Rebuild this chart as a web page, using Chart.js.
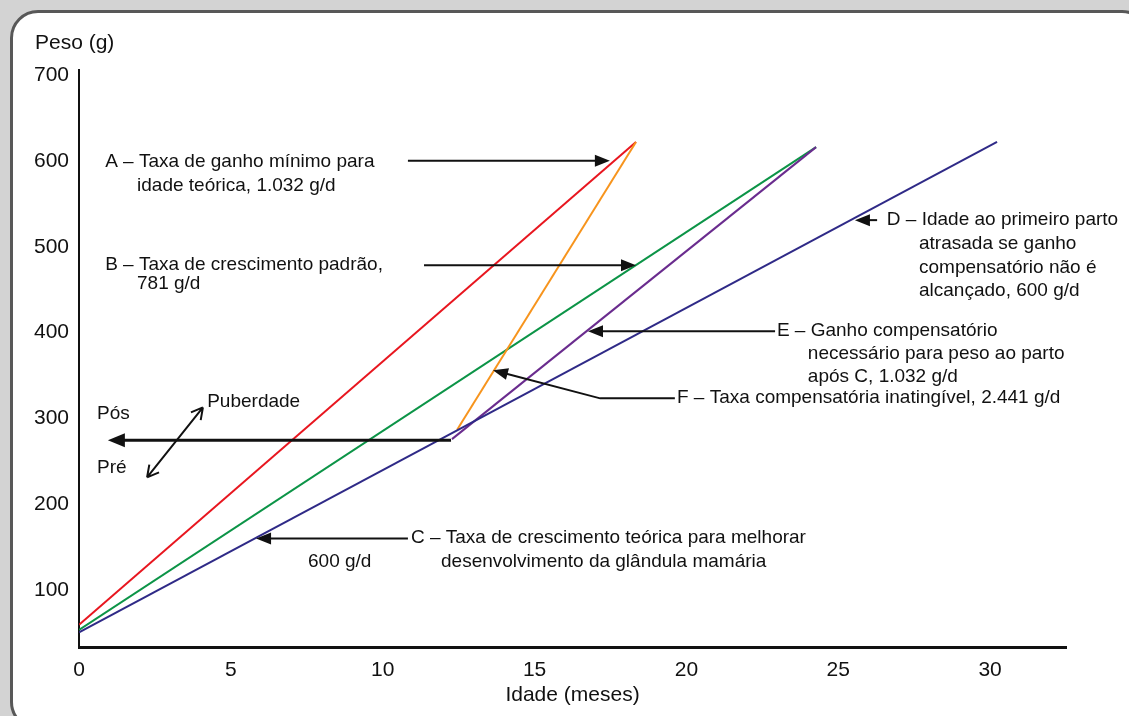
<!DOCTYPE html>
<html>
<head>
<meta charset="utf-8">
<script src="https://cdn.jsdelivr.net/npm/chart.js@4"></script>
<style>
  html, body { margin: 0; padding: 0; }
  body { width: 1129px; height: 716px; background: #d3d3d3; position: relative; overflow: hidden; }
  #box { position: absolute; left: 10px; top: 10px; width: 1140px; height: 720px;
         box-sizing: border-box; border: 3px solid #585858; border-radius: 28px; background: #fff; }
  #wrap { position: absolute; left: 0; top: 0; width: 1129px; height: 716px; }
</style>
</head>
<body>
<div id="box"></div>
<div id="wrap"><canvas id="grafico"></canvas></div>
<script>
// eixos
var xTicks = [0, 5, 10, 15, 20, 25, 30];
var yTicks = [100, 200, 300, 400, 500, 600, 700];

// linhas (idade em meses, peso em g)
var idadeA = [0, 18.34];   var pesoA = [60, 622];    // ganho minimo
var idadeB = [0, 24.27];   var pesoB = [54, 616];    // padrao
var idadeCD = [0, 30.23];  var pesoCD = [51, 622];   // 600 g/d
var idadeE = [12.28, 24.27]; var pesoE = [276, 616]; // compensatorio
var idadeF = [12.45, 18.34]; var pesoF = [287, 622]; // inatingivel

function pts(xs, ys) {
  return xs.map(function (v, i) { return { x: v, y: ys[i] }; });
}

// textos das anotacoes, ancorados em coordenadas dos eixos
var textos = [
  ["A – Taxa de ganho mínimo para", 0.86, 599],
  ["idade teórica, 1.032 g/d", 1.91, 571],
  ["B – Taxa de crescimento padrão,", 0.86, 478.5],
  ["781 g/d", 1.91, 456.5],
  ["Pós", 0.59, 306],
  ["Pré", 0.59, 243],
  ["Puberdade", 4.22, 320],
  ["C – Taxa de crescimento teórica para melhorar", 10.93, 161.5],
  ["desenvolvimento da glândula mamária", 11.92, 133.5],
  ["600 g/d", 7.54, 133.5],
  ["D – Idade ao primeiro parto", 26.6, 531],
  ["atrasada se ganho", 27.66, 503],
  ["compensatório não é", 27.66, 475],
  ["alcançado, 600 g/d", 27.66, 448.5],
  ["E – Ganho compensatório", 22.98, 402.5],
  ["necessário para peso ao parto", 24.0, 375.5],
  ["após C, 1.032 g/d", 24.0, 348.5],
  ["F – Taxa compensatória inatingível, 2.441 g/d", 19.69, 324.5]
];

// setas: pontos do caminho, a ponta no ultimo
var setas = [
  { p: [[10.83, 600], [17.48, 600]] },
  { p: [[11.36, 478.6], [18.34, 478.6]] },
  { p: [[12.25, 274.6], [0.95, 274.6]], w: 3 },
  { p: [[10.83, 160.4], [5.83, 160.4]] },
  { p: [[26.28, 531], [25.55, 531]] },
  { p: [[22.92, 401.6], [16.76, 401.6]] },
  { p: [[19.62, 323.5], [17.16, 323.5], [13.63, 356.2]] }
];
var setaDupla = [[2.24, 231.5], [4.08, 313]];

var fonte = '"Liberation Sans", Arial, sans-serif';

var anotacoes = {
  id: 'anotacoes',
  afterDatasetsDraw: function (chart) {
    var c = chart.ctx, sx = chart.scales.x, sy = chart.scales.y;
    function px(p) { return [sx.getPixelForValue(p[0]), sy.getPixelForValue(p[1])]; }
    c.save();
    c.fillStyle = '#111';
    c.strokeStyle = '#111';
    c.font = '19px ' + fonte;
    c.textBaseline = 'middle';
    c.textAlign = 'left';
    textos.forEach(function (t) {
      var q = px([t[1], t[2]]);
      c.fillText(t[0], q[0], q[1]);
    });

    setas.forEach(function (s) {
      var w = s.w || 2;
      var q = s.p.map(px);
      var n = q.length;
      var a = Math.atan2(q[n - 1][1] - q[n - 2][1], q[n - 1][0] - q[n - 2][0]);
      var L = w > 2 ? 17 : 15, H = w > 2 ? 7 : 6;
      c.lineWidth = w;
      c.beginPath();
      c.moveTo(q[0][0], q[0][1]);
      for (var i = 1; i < n - 1; i++) c.lineTo(q[i][0], q[i][1]);
      c.lineTo(q[n - 1][0] - Math.cos(a) * (L - 2), q[n - 1][1] - Math.sin(a) * (L - 2));
      c.stroke();
      var tx = q[n - 1][0], ty = q[n - 1][1];
      c.beginPath();
      c.moveTo(tx, ty);
      c.lineTo(tx - L * Math.cos(a) + H * Math.sin(a), ty - L * Math.sin(a) - H * Math.cos(a));
      c.lineTo(tx - L * Math.cos(a) - H * Math.sin(a), ty - L * Math.sin(a) + H * Math.cos(a));
      c.closePath();
      c.fill();
    });

    // seta dupla da puberdade, pontas abertas
    var d0 = px(setaDupla[0]), d1 = px(setaDupla[1]);
    c.lineWidth = 2;
    c.beginPath();
    c.moveTo(d0[0], d0[1]);
    c.lineTo(d1[0], d1[1]);
    [[d1, d0], [d0, d1]].forEach(function (e) {
      var a = Math.atan2(e[0][1] - e[1][1], e[0][0] - e[1][0]);
      for (var k = -1; k <= 1; k += 2) {
        c.moveTo(e[0][0], e[0][1]);
        c.lineTo(e[0][0] - 13 * Math.cos(a + k * 0.5), e[0][1] - 13 * Math.sin(a + k * 0.5));
      }
    });
    c.stroke();

    // titulo do eixo y, horizontal
    c.font = '21px ' + fonte;
    c.fillText('Peso (g)', 35, 43);
    c.restore();
  }
};

var data = {
  datasets: [
    { label: 'D', data: pts(idadeCD, pesoCD), borderColor: '#2f2a87' },
    { label: 'E', data: pts(idadeE, pesoE), borderColor: '#6a2c8e' },
    { label: 'F', data: pts(idadeF, pesoF), borderColor: '#f7941d' },
    { label: 'B', data: pts(idadeB, pesoB), borderColor: '#0c9447' },
    { label: 'A', data: pts(idadeA, pesoA), borderColor: '#e8161f' }
  ]
};
data.datasets.forEach(function (d) {
  d.showLine = true; d.pointRadius = 0; d.borderWidth = 2; d.fill = false;
});

var options = {
  responsive: false,
  animation: false,
  layout: { padding: { left: 24, right: 63, top: 70, bottom: 8 } },
  plugins: { legend: { display: false }, tooltip: { enabled: false } },
  scales: {
    x: {
      type: 'linear', min: 0, max: 32.5,
      afterBuildTicks: function (ax) { ax.ticks = xTicks.map(function (v) { return { value: v }; }); },
      grid: { display: false, drawTicks: false },
      border: { color: '#111', width: 3 },
      ticks: { color: '#111', padding: 10, maxRotation: 0, font: { family: fonte, size: 21 } },
      title: { display: true, text: 'Idade (meses)', color: '#111', padding: { top: -10, bottom: 0 },
               font: { family: fonte, size: 21 } }
    },
    y: {
      type: 'linear', min: 33.3, max: 705.8,
      afterBuildTicks: function (ax) { ax.ticks = yTicks.map(function (v) { return { value: v }; }); },
      grid: { display: false, drawTicks: false },
      border: { color: '#111', width: 2 },
      ticks: { color: '#111', padding: 10, font: { family: fonte, size: 21 } }
    }
  }
};

var canvas = document.getElementById('grafico');
canvas.width = 1129;
canvas.height = 716;
var ctx = canvas.getContext('2d');
var myChart = new Chart(ctx, { type: 'scatter', data: data, options: options, plugins: [anotacoes] });
</script>
</body>
</html>
